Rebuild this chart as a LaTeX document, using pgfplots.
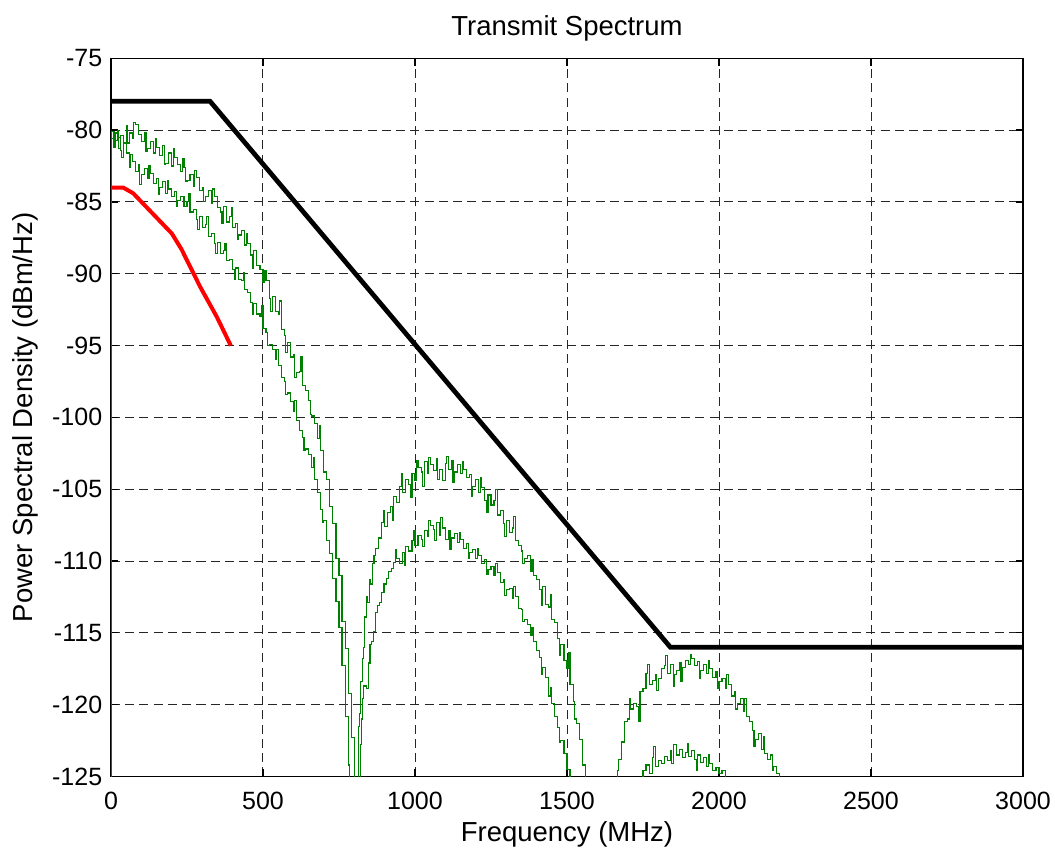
\documentclass[border=0pt]{standalone}
\usepackage{fontspec}
\setmainfont{Liberation Sans}
\usepackage{pgfplots}
\pgfplotsset{compat=1.18}
\definecolor{mlgreen}{RGB}{0,128,0}
\definecolor{mlred}{RGB}{255,0,0}

\begin{document}
\begin{tikzpicture}
\useasboundingbox (-44.4pt,-28.5pt) rectangle (377.6pt,310.6pt);
\begin{axis}[
    at={(0pt,0pt)}, anchor=south west,
    scale only axis, width=364.8pt, height=287.3pt,
    xmin=0, xmax=3000, ymin=-125, ymax=-75,
    xtick={0,500,...,3000},
    ytick={-125,-120,...,-75},
    scaled ticks=false,
    /pgf/number format/1000 sep={},
    /pgf/number format/assume math mode=true,
    tick label style={font=\fontsize{10}{12}\selectfont},
    xticklabel style={yshift=-2.5pt},
    label style={font=\fontsize{11}{13}\selectfont},
    every axis title shift=0pt,
    title style={font=\fontsize{11}{13}\selectfont, at={(axis description cs:0.5,1.031)}, anchor=base},
    xlabel style={at={(axis description cs:0.5,-0.0905)}, anchor=base},
    ylabel style={at={(axis description cs:-0.0863,0.5)}, anchor=base},
    title={Transmit Spectrum},
    xlabel={Frequency (MHz)},
    ylabel={Power Spectral Density (dBm/Hz)},
    grid=major,
    major grid style={black!85, line width=0.4pt, dash pattern=on 3.6pt off 2.1pt},
    axis line style={line width=0.5pt},
    tick style={black, line width=0.5pt},
    major tick length=3pt,
]
% measured spectrum, upper trace
\addplot[mlgreen, line width=0.45pt, const plot] coordinates {
(0,-135) (3,-80.1) (10,-80.7) (20,-80.0) (25,-81.3) (30,-80.4) (40,-80.9) (50,-79.7) (55,-80.9) (60,-80.2)
(70,-80.6) (75,-79.5) (80,-79.6) (90,-80.3) (100,-80.8) (110,-80.2) (115,-81.5) (120,-81.3) (130,-80.8) (140,-81.6)
(145,-80.6) (150,-81.2) (160,-81.8) (170,-81.1) (175,-82.4) (180,-82.3) (190,-81.6) (200,-82.5) (205,-81.3) (210,-81.9)
(220,-82.4) (230,-82.9) (235,-82.0) (240,-82.6) (245,-83.6) (250,-83.5) (260,-83.1) (270,-83.9) (275,-82.8) (280,-83.3)
(290,-84.2) (300,-84.0) (305,-85.0) (310,-84.6) (320,-84.2) (330,-85.1) (335,-84.1) (340,-84.6) (350,-85.4) (360,-85.7)
(365,-86.5) (370,-85.3) (380,-86.4) (390,-86.0) (395,-85.4) (400,-86.8) (410,-86.5) (415,-87.6) (420,-87.3) (430,-87.0)
(440,-88.0) (445,-87.2) (450,-87.9) (460,-88.7) (465,-89.6) (470,-88.4) (480,-89.4) (490,-89.7) (500,-90.6) (505,-89.8)
(510,-90.5) (520,-91.7) (525,-92.6) (530,-91.6) (540,-92.6) (550,-92.8) (555,-91.9) (560,-93.9) (570,-94.3) (575,-95.5)
(580,-94.8) (590,-95.8) (600,-95.6) (605,-97.2) (610,-96.9) (620,-96.8) (625,-95.8) (630,-97.8) (640,-98.1) (650,-98.8)
(655,-99.8) (660,-99.9) (670,-100.4) (680,-101.5) (685,-100.6) (690,-102.3) (700,-103.8) (710,-104.3) (720,-106.2) (730,-107.4)
(740,-109.8) (750,-111.0) (760,-114.2) (770,-116.1) (780,-119.2) (790,-122.3) (800,-135) (812,-135) (814,-121.5) (818,-120.6)
(822,-118.4) (826,-116.8) (830,-116.0) (835,-113.9) (840,-112.5) (845,-112.9) (850,-111.3) (855,-111.6) (860,-110.2) (865,-109.6)
(870,-109.1) (880,-108.4) (890,-107.3) (895,-106.5) (900,-107.6) (910,-106.6) (920,-106.2) (925,-107.2) (930,-105.5) (940,-105.9)
(950,-104.8) (955,-103.9) (960,-105.2) (970,-104.3) (980,-104.7) (985,-105.6) (990,-103.9) (1000,-104.4) (1005,-103.0) (1010,-103.5)
(1020,-103.8) (1025,-104.8) (1030,-103.1) (1040,-103.9) (1045,-102.8) (1050,-103.3) (1060,-103.7) (1070,-102.9) (1075,-104.3) (1080,-103.6)
(1090,-104.4) (1100,-103.2) (1105,-102.7) (1110,-103.6) (1120,-103.0) (1125,-104.5) (1130,-103.8) (1140,-103.3) (1150,-103.9) (1155,-103.1)
(1160,-103.6) (1170,-104.2) (1180,-104.0) (1185,-105.5) (1190,-104.8) (1200,-104.3) (1210,-105.2) (1215,-104.2) (1220,-104.9) (1230,-105.8)
(1235,-106.6) (1240,-105.4) (1250,-106.1) (1260,-105.8) (1265,-105.0) (1270,-106.8) (1280,-106.5) (1290,-107.4) (1295,-108.3) (1300,-107.2)
(1310,-108.0) (1320,-107.7) (1325,-106.9) (1330,-108.6) (1340,-108.9) (1350,-109.3) (1355,-110.2) (1360,-109.8) (1370,-109.6) (1380,-110.7)
(1385,-109.9) (1390,-111.0) (1400,-111.3) (1410,-112.0) (1415,-113.1) (1420,-111.8) (1430,-113.0) (1440,-113.2) (1445,-112.3) (1450,-114.1)
(1460,-114.3) (1470,-115.4) (1475,-116.6) (1480,-115.8) (1490,-116.9) (1500,-117.5) (1505,-116.4) (1510,-118.6) (1520,-119.8) (1525,-121.0)
(1530,-121.3) (1540,-122.4) (1550,-124.2) (1560,-126.0) (1570,-135) (1660,-135) (1665,-124.6) (1670,-123.8) (1680,-122.6) (1690,-121.2)
(1700,-121.0) (1705,-119.6) (1710,-120.3) (1720,-119.9) (1730,-120.1) (1735,-121.2) (1740,-119.1) (1750,-118.9) (1760,-117.8) (1765,-117.2)
(1770,-118.6) (1780,-118.3) (1790,-117.9) (1795,-119.0) (1800,-118.2) (1810,-117.5) (1820,-117.3) (1825,-116.6) (1830,-117.8) (1840,-117.2)
(1850,-118.7) (1855,-117.9) (1860,-117.6) (1870,-117.1) (1875,-118.4) (1880,-117.4) (1890,-116.9) (1900,-117.2) (1905,-116.5) (1910,-116.8)
(1920,-117.3) (1930,-117.0) (1935,-118.2) (1940,-117.6) (1950,-117.2) (1960,-117.8) (1965,-116.9) (1970,-117.5) (1980,-118.1) (1990,-117.7)
(1995,-118.9) (2000,-118.4) (2010,-118.2) (2020,-118.9) (2025,-117.9) (2030,-118.6) (2040,-119.4) (2050,-119.1) (2055,-120.3) (2060,-119.9)
(2070,-119.6) (2080,-120.5) (2085,-119.6) (2090,-120.8) (2100,-121.2) (2110,-121.8) (2115,-122.9) (2120,-122.4) (2130,-122.0) (2140,-123.1)
(2145,-122.2) (2150,-123.4) (2160,-123.8) (2170,-123.5) (2175,-124.6) (2180,-124.3) (2190,-124.8) (2200,-126.0) (2210,-135)
};
% measured spectrum, lower trace
\addplot[mlgreen, line width=0.45pt, const plot] coordinates {
(0,-135) (3,-80.6) (10,-81.2) (15,-80.2) (20,-80.5) (30,-81.4) (35,-81.9) (40,-80.9) (50,-81.6) (60,-82.6)
(65,-81.7) (70,-82.2) (80,-82.9) (90,-82.4) (95,-83.8) (100,-83.1) (110,-82.7) (120,-83.4) (125,-82.5) (130,-83.0)
(140,-83.7) (150,-83.4) (155,-84.5) (160,-84.0) (170,-83.6) (180,-84.4) (185,-83.5) (190,-84.1) (200,-84.6) (210,-84.3)
(215,-85.3) (220,-84.9) (230,-84.6) (240,-85.3) (250,-85.0) (255,-84.4) (260,-85.7) (270,-85.5) (280,-86.2) (285,-86.9)
(290,-86.0) (300,-86.8) (310,-86.6) (315,-86.0) (320,-87.4) (330,-87.2) (340,-87.9) (345,-88.6) (350,-87.8) (360,-88.6)
(370,-88.4) (375,-87.9) (380,-89.1) (390,-89.0) (400,-89.7) (405,-90.4) (410,-89.6) (420,-90.4) (430,-90.5) (435,-89.9)
(440,-91.1) (450,-91.3) (460,-92.0) (465,-92.8) (470,-92.1) (480,-92.8) (490,-93.0) (495,-92.2) (500,-93.8) (510,-94.1)
(515,-95.0) (520,-94.9) (530,-95.3) (540,-96.0) (545,-95.3) (550,-96.4) (560,-97.2) (570,-97.5) (575,-98.4) (580,-98.3)
(590,-98.9) (600,-99.6) (605,-98.8) (610,-100.2) (620,-100.9) (630,-101.4) (635,-102.3) (640,-102.2) (650,-102.6) (660,-103.5)
(665,-102.8) (670,-104.3) (680,-105.2) (690,-106.4) (695,-107.3) (700,-107.2) (710,-108.6) (720,-109.5) (730,-111.2) (740,-112.8)
(750,-114.6) (760,-117.3) (770,-120.8) (780,-124.2) (785,-135) (818,-135) (820,-122.8) (824,-121.0) (828,-119.6) (832,-118.7)
(840,-118.9) (846,-117.1) (852,-115.8) (858,-115.6) (864,-114.9) (870,-113.6) (876,-113.1) (882,-112.9) (890,-112.2) (898,-111.6)
(906,-111.2) (914,-110.7) (922,-110.5) (930,-110.1) (935,-109.2) (940,-109.8) (950,-110.2) (960,-109.4) (965,-110.3) (970,-109.0)
(980,-109.3) (990,-108.6) (995,-107.9) (1000,-108.9) (1010,-108.2) (1020,-108.5) (1025,-109.0) (1030,-107.9) (1040,-108.3) (1045,-107.2)
(1050,-107.5) (1060,-107.8) (1065,-108.6) (1070,-107.3) (1080,-108.2) (1085,-107.0) (1090,-107.7) (1100,-108.5) (1110,-107.9) (1115,-109.2)
(1120,-108.4) (1130,-108.1) (1140,-108.7) (1145,-108.0) (1150,-108.5) (1160,-109.1) (1170,-108.8) (1175,-109.8) (1180,-109.4) (1190,-109.2)
(1200,-109.8) (1205,-109.1) (1210,-109.6) (1220,-110.2) (1230,-109.9) (1235,-110.9) (1240,-110.6) (1250,-110.4) (1260,-111.0) (1265,-110.2)
(1270,-110.8) (1280,-111.5) (1290,-111.3) (1295,-112.4) (1300,-112.0) (1310,-111.9) (1320,-112.6) (1325,-111.8) (1330,-112.5) (1340,-113.3)
(1350,-113.4) (1355,-114.2) (1360,-114.1) (1370,-114.4) (1380,-115.2) (1385,-114.6) (1390,-115.6) (1400,-116.2) (1410,-116.7) (1415,-117.9)
(1420,-117.4) (1430,-118.1) (1440,-119.4) (1445,-118.8) (1450,-119.9) (1460,-120.8) (1470,-121.6) (1475,-122.6) (1480,-122.5) (1490,-123.4)
(1500,-124.5) (1510,-125.8) (1520,-135) (1745,-135) (1750,-124.6) (1760,-124.2) (1770,-124.8) (1780,-123.7) (1785,-122.9) (1790,-124.3)
(1800,-123.9) (1810,-124.1) (1820,-123.6) (1830,-123.9) (1840,-123.2) (1845,-124.1) (1850,-122.8) (1860,-123.5) (1870,-123.1) (1880,-123.7)
(1890,-123.3) (1895,-122.7) (1900,-123.6) (1910,-123.2) (1920,-123.8) (1925,-124.6) (1930,-123.5) (1940,-124.0) (1950,-123.7) (1960,-124.3)
(1965,-123.5) (1970,-124.1) (1980,-124.6) (1990,-124.4) (2000,-124.8) (2010,-124.6) (2020,-125.4) (2030,-135)
};
% red limit
\addplot[mlred, line width=1.6pt] coordinates {
(0,-84) (40,-84) (73,-84.4) (200,-87.2) (232,-88.3) (293,-90.9) (348,-93.0) (394,-95)
};
% spectral mask
\addplot[black, line width=1.9pt] coordinates {
(0,-78) (326,-78) (1840,-116) (3000,-116)
};
\end{axis}
\end{tikzpicture}
\end{document}
